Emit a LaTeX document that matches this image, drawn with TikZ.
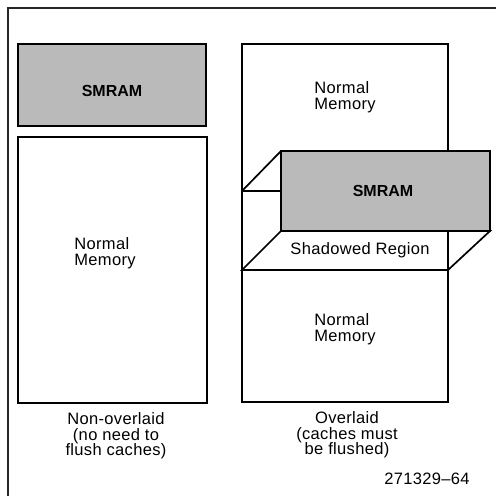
\documentclass[tikz,border=0pt]{standalone}
\usepackage{fontspec}
\setmainfont{Liberation Sans}
\begin{document}
\begin{tikzpicture}[x=1pt,y=-1pt,
  boxline/.style={draw=black,line width=1.7pt},
  shaded/.style={boxline,fill=black!27},
  txt/.style={inner sep=0pt,font=\fontsize{16.5}{15.5}\selectfont\addfontfeatures{LetterSpace=2}},
  ltxt/.style={txt,align=left},
  ctxt/.style={txt,align=center},
  btxt/.style={inner sep=0pt,font=\fontsize{16}{16}\selectfont\bfseries}]
\useasboundingbox (0,0) rectangle (496,496);
% frame
\draw[line width=1.6pt,black!85] (8,496) -- (8,8) -- (496,8);
% left column
\node[shaded,minimum width=188pt,minimum height=82pt,inner sep=0pt] (lsmram) at (112,85) {};
\node[btxt] (lsmramt) at (112,91) {SMRAM};
\node[boxline,minimum width=189pt,minimum height=266pt,inner sep=0pt] (lmem) at (112.5,270) {};
\node[ltxt] (lmemt) at (105,253) {Normal\\Memory};
\node[ctxt] (lcap) at (116,436) {Non-overlaid\\(no need to\\flush caches)};
% right column: tall box
\node[boxline,minimum width=206pt,minimum height=358pt,inner sep=0pt] (rmem) at (345,223) {};
\coordinate (bTL) at (242,191);
\coordinate (bBL) at (242,270);
\coordinate (bBR) at (448,270);
\coordinate (fTL) at (281,151);
\coordinate (fBL) at (281,231);
\coordinate (fBR) at (490,231);
% shadowed region (bottom face)
\filldraw[boxline,fill=white,line join=miter] (fBL) -- (fBR) -- (bBR) -- (bBL) -- cycle;
\draw[boxline] (448,231) -- (bBR);
\draw[boxline] (bTL) -- (fTL);
\draw[boxline] (bTL) -- (281,191);
% front face
\node[shaded,minimum width=209pt,minimum height=80pt,inner sep=0pt] (rsmram) at (385.5,191) {};
\node[btxt] (rsmramt) at (383,191) {SMRAM};
\node[txt] (shadt) at (360,250) {Shadowed Region};
\node[ltxt] (rtopt) at (345,97) {Normal\\Memory};
\node[ltxt] (rbott) at (345,329) {Normal\\Memory};
\node[ctxt] (rcap) at (347,435) {Overlaid\\(caches must\\be flushed)};
\node[txt] (fig) at (427,479) {271329--64};
\end{tikzpicture}
\end{document}
